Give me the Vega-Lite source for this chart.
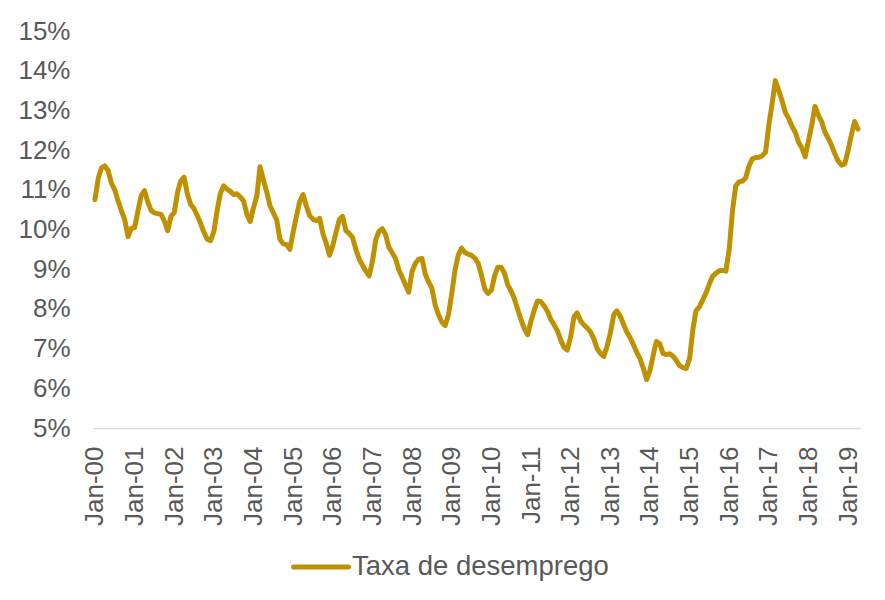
{
"$schema": "https://vega.github.io/schema/vega-lite/v6.json",
"width": 767,
"height": 397,
"autosize": {"type": "none"},
"padding": {"left": 93, "top": 31, "right": 25, "bottom": 172},
"background": "white",
"config": {"font": "Liberation Sans", "view": {"stroke": null}},
"datasets": {"t": [
{"d":"2000-01-01","v":10.75},{"d":"2000-02-01","v":11.3},{"d":"2000-03-01","v":11.55},{"d":"2000-04-01","v":11.6},{"d":"2000-05-01","v":11.48},{"d":"2000-06-01","v":11.17},{"d":"2000-07-01","v":11.0},{"d":"2000-08-01","v":10.72},{"d":"2000-09-01","v":10.47},{"d":"2000-10-01","v":10.25},{"d":"2000-11-01","v":9.82},{"d":"2000-12-01","v":10.03},
{"d":"2001-01-01","v":10.05},{"d":"2001-02-01","v":10.48},{"d":"2001-03-01","v":10.85},{"d":"2001-04-01","v":10.98},{"d":"2001-05-01","v":10.7},{"d":"2001-06-01","v":10.48},{"d":"2001-07-01","v":10.42},{"d":"2001-08-01","v":10.4},{"d":"2001-09-01","v":10.38},{"d":"2001-10-01","v":10.22},{"d":"2001-11-01","v":9.97},{"d":"2001-12-01","v":10.33},
{"d":"2002-01-01","v":10.43},{"d":"2002-02-01","v":10.95},{"d":"2002-03-01","v":11.22},{"d":"2002-04-01","v":11.32},{"d":"2002-05-01","v":10.9},{"d":"2002-06-01","v":10.63},{"d":"2002-07-01","v":10.53},{"d":"2002-08-01","v":10.35},{"d":"2002-09-01","v":10.15},{"d":"2002-10-01","v":9.93},{"d":"2002-11-01","v":9.75},{"d":"2002-12-01","v":9.72},
{"d":"2003-01-01","v":9.95},{"d":"2003-02-01","v":10.5},{"d":"2003-03-01","v":10.9},{"d":"2003-04-01","v":11.1},{"d":"2003-05-01","v":11.02},{"d":"2003-06-01","v":10.96},{"d":"2003-07-01","v":10.88},{"d":"2003-08-01","v":10.9},{"d":"2003-09-01","v":10.82},{"d":"2003-10-01","v":10.72},{"d":"2003-11-01","v":10.38},{"d":"2003-12-01","v":10.2},
{"d":"2004-01-01","v":10.55},{"d":"2004-02-01","v":10.85},{"d":"2004-03-01","v":11.58},{"d":"2004-04-01","v":11.25},{"d":"2004-05-01","v":10.95},{"d":"2004-06-01","v":10.6},{"d":"2004-07-01","v":10.42},{"d":"2004-08-01","v":10.25},{"d":"2004-09-01","v":9.75},{"d":"2004-10-01","v":9.64},{"d":"2004-11-01","v":9.62},{"d":"2004-12-01","v":9.5},
{"d":"2005-01-01","v":9.95},{"d":"2005-02-01","v":10.35},{"d":"2005-03-01","v":10.7},{"d":"2005-04-01","v":10.88},{"d":"2005-05-01","v":10.6},{"d":"2005-06-01","v":10.35},{"d":"2005-07-01","v":10.26},{"d":"2005-08-01","v":10.22},{"d":"2005-09-01","v":10.28},{"d":"2005-10-01","v":9.9},{"d":"2005-11-01","v":9.65},{"d":"2005-12-01","v":9.35},
{"d":"2006-01-01","v":9.6},{"d":"2006-02-01","v":9.95},{"d":"2006-03-01","v":10.25},{"d":"2006-04-01","v":10.33},{"d":"2006-05-01","v":9.97},{"d":"2006-06-01","v":9.9},{"d":"2006-07-01","v":9.8},{"d":"2006-08-01","v":9.5},{"d":"2006-09-01","v":9.25},{"d":"2006-10-01","v":9.1},{"d":"2006-11-01","v":8.95},{"d":"2006-12-01","v":8.83},
{"d":"2007-01-01","v":9.2},{"d":"2007-02-01","v":9.75},{"d":"2007-03-01","v":9.95},{"d":"2007-04-01","v":10.02},{"d":"2007-05-01","v":9.88},{"d":"2007-06-01","v":9.55},{"d":"2007-07-01","v":9.42},{"d":"2007-08-01","v":9.27},{"d":"2007-09-01","v":8.98},{"d":"2007-10-01","v":8.8},{"d":"2007-11-01","v":8.6},{"d":"2007-12-01","v":8.42},
{"d":"2008-01-01","v":8.95},{"d":"2008-02-01","v":9.15},{"d":"2008-03-01","v":9.25},{"d":"2008-04-01","v":9.27},{"d":"2008-05-01","v":8.88},{"d":"2008-06-01","v":8.68},{"d":"2008-07-01","v":8.52},{"d":"2008-08-01","v":8.1},{"d":"2008-09-01","v":7.85},{"d":"2008-10-01","v":7.67},{"d":"2008-11-01","v":7.58},{"d":"2008-12-01","v":7.85},
{"d":"2009-01-01","v":8.4},{"d":"2009-02-01","v":9.0},{"d":"2009-03-01","v":9.35},{"d":"2009-04-01","v":9.53},{"d":"2009-05-01","v":9.42},{"d":"2009-06-01","v":9.38},{"d":"2009-07-01","v":9.35},{"d":"2009-08-01","v":9.28},{"d":"2009-09-01","v":9.15},{"d":"2009-10-01","v":8.85},{"d":"2009-11-01","v":8.5},{"d":"2009-12-01","v":8.39},
{"d":"2010-01-01","v":8.47},{"d":"2010-02-01","v":8.85},{"d":"2010-03-01","v":9.05},{"d":"2010-04-01","v":9.05},{"d":"2010-05-01","v":8.9},{"d":"2010-06-01","v":8.6},{"d":"2010-07-01","v":8.45},{"d":"2010-08-01","v":8.25},{"d":"2010-09-01","v":7.98},{"d":"2010-10-01","v":7.72},{"d":"2010-11-01","v":7.5},{"d":"2010-12-01","v":7.35},
{"d":"2011-01-01","v":7.7},{"d":"2011-02-01","v":7.98},{"d":"2011-03-01","v":8.2},{"d":"2011-04-01","v":8.18},{"d":"2011-05-01","v":8.08},{"d":"2011-06-01","v":7.94},{"d":"2011-07-01","v":7.74},{"d":"2011-08-01","v":7.6},{"d":"2011-09-01","v":7.45},{"d":"2011-10-01","v":7.22},{"d":"2011-11-01","v":7.03},{"d":"2011-12-01","v":6.96},
{"d":"2012-01-01","v":7.3},{"d":"2012-02-01","v":7.8},{"d":"2012-03-01","v":7.9},{"d":"2012-04-01","v":7.7},{"d":"2012-05-01","v":7.6},{"d":"2012-06-01","v":7.52},{"d":"2012-07-01","v":7.42},{"d":"2012-08-01","v":7.25},{"d":"2012-09-01","v":7.0},{"d":"2012-10-01","v":6.88},{"d":"2012-11-01","v":6.8},{"d":"2012-12-01","v":7.05},
{"d":"2013-01-01","v":7.4},{"d":"2013-02-01","v":7.85},{"d":"2013-03-01","v":7.95},{"d":"2013-04-01","v":7.82},{"d":"2013-05-01","v":7.62},{"d":"2013-06-01","v":7.42},{"d":"2013-07-01","v":7.28},{"d":"2013-08-01","v":7.1},{"d":"2013-09-01","v":6.9},{"d":"2013-10-01","v":6.75},{"d":"2013-11-01","v":6.5},{"d":"2013-12-01","v":6.22},
{"d":"2014-01-01","v":6.45},{"d":"2014-02-01","v":6.85},{"d":"2014-03-01","v":7.18},{"d":"2014-04-01","v":7.12},{"d":"2014-05-01","v":6.88},{"d":"2014-06-01","v":6.85},{"d":"2014-07-01","v":6.87},{"d":"2014-08-01","v":6.81},{"d":"2014-09-01","v":6.7},{"d":"2014-10-01","v":6.57},{"d":"2014-11-01","v":6.52},{"d":"2014-12-01","v":6.5},
{"d":"2015-01-01","v":6.75},{"d":"2015-02-01","v":7.5},{"d":"2015-03-01","v":7.95},{"d":"2015-04-01","v":8.05},{"d":"2015-05-01","v":8.22},{"d":"2015-06-01","v":8.4},{"d":"2015-07-01","v":8.62},{"d":"2015-08-01","v":8.82},{"d":"2015-09-01","v":8.9},{"d":"2015-10-01","v":8.96},{"d":"2015-11-01","v":8.97},{"d":"2015-12-01","v":8.95},
{"d":"2016-01-01","v":9.5},{"d":"2016-02-01","v":10.5},{"d":"2016-03-01","v":11.1},{"d":"2016-04-01","v":11.2},{"d":"2016-05-01","v":11.22},{"d":"2016-06-01","v":11.3},{"d":"2016-07-01","v":11.6},{"d":"2016-08-01","v":11.78},{"d":"2016-09-01","v":11.81},{"d":"2016-10-01","v":11.82},{"d":"2016-11-01","v":11.86},{"d":"2016-12-01","v":11.95},
{"d":"2017-01-01","v":12.65},{"d":"2017-02-01","v":13.2},{"d":"2017-03-01","v":13.75},{"d":"2017-04-01","v":13.5},{"d":"2017-05-01","v":13.25},{"d":"2017-06-01","v":12.95},{"d":"2017-07-01","v":12.8},{"d":"2017-08-01","v":12.6},{"d":"2017-09-01","v":12.45},{"d":"2017-10-01","v":12.2},{"d":"2017-11-01","v":12.05},{"d":"2017-12-01","v":11.83},
{"d":"2018-01-01","v":12.25},{"d":"2018-02-01","v":12.65},{"d":"2018-03-01","v":13.1},{"d":"2018-04-01","v":12.88},{"d":"2018-05-01","v":12.72},{"d":"2018-06-01","v":12.45},{"d":"2018-07-01","v":12.3},{"d":"2018-08-01","v":12.12},{"d":"2018-09-01","v":11.9},{"d":"2018-10-01","v":11.72},{"d":"2018-11-01","v":11.62},{"d":"2018-12-01","v":11.65},
{"d":"2019-01-01","v":12.0},{"d":"2019-02-01","v":12.4},{"d":"2019-03-01","v":12.72},{"d":"2019-04-01","v":12.53}
]},
"data": {"name": "t"},
"mark": {"type": "line", "strokeWidth": 5, "strokeCap": "round", "strokeJoin": "round"},
"encoding": {
"x": {"field": "d", "type": "temporal",
 "scale": {"type": "utc", "domain": [{"year": 1999, "month": 12, "date": 14, "utc": true}, {"year": 2019, "month": 4, "date": 20, "utc": true}]},
 "axis": {"title": null,
  "values": [{"year":2000,"month":1,"date":1,"utc":true},{"year":2001,"month":1,"date":1,"utc":true},{"year":2002,"month":1,"date":1,"utc":true},{"year":2003,"month":1,"date":1,"utc":true},{"year":2004,"month":1,"date":1,"utc":true},{"year":2005,"month":1,"date":1,"utc":true},{"year":2006,"month":1,"date":1,"utc":true},{"year":2007,"month":1,"date":1,"utc":true},{"year":2008,"month":1,"date":1,"utc":true},{"year":2009,"month":1,"date":1,"utc":true},{"year":2010,"month":1,"date":1,"utc":true},{"year":2011,"month":1,"date":1,"utc":true},{"year":2012,"month":1,"date":1,"utc":true},{"year":2013,"month":1,"date":1,"utc":true},{"year":2014,"month":1,"date":1,"utc":true},{"year":2015,"month":1,"date":1,"utc":true},{"year":2016,"month":1,"date":1,"utc":true},{"year":2017,"month":1,"date":1,"utc":true},{"year":2018,"month":1,"date":1,"utc":true},{"year":2019,"month":1,"date":1,"utc":true}],
  "labelExpr": "utcFormat(datum.value, '%b-%y')",
  "labelAngle": -90, "labelAlign": "right", "labelBaseline": "middle",
  "labelFontSize": 26, "labelColor": "#595959", "labelFont": "Liberation Sans",
  "ticks": false, "tickSize": 0, "labelPadding": 18, "grid": false,
  "domainColor": "#D9D9D9", "domainWidth": 1.5, "labelFlush": false, "labelOverlap": false}},
"y": {"field": "v", "type": "quantitative",
 "scale": {"domain": [5, 15], "nice": false, "zero": false},
 "axis": {"title": null, "values": [5,6,7,8,9,10,11,12,13,14,15],
  "labelExpr": "datum.value + '%'",
  "labelFontSize": 26, "labelColor": "#595959", "labelFont": "Liberation Sans",
  "ticks": false, "tickSize": 0, "domain": false, "grid": false, "labelPadding": 23}},
"color": {"datum": "Taxa de desemprego", "type": "nominal",
 "scale": {"range": ["#BF9000"]},
 "legend": {"title": null, "orient": "none", "legendX": 198, "legendY": 506,
  "symbolType": "stroke", "symbolSize": 3025, "symbolStrokeWidth": 5,
  "labelFontSize": 27.5, "labelColor": "#595959", "labelFont": "Liberation Sans",
  "labelOffset": 1, "padding": 0, "labelLimit": 400,
  "encode": {"symbols": {"update": {"strokeCap": {"value": "round"}}}}}}
}
}
